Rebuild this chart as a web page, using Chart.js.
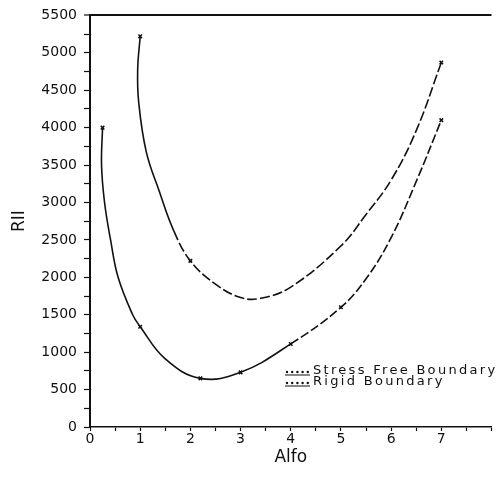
<!DOCTYPE html>
<html>
<head>
<meta charset="utf-8">
<script src="https://cdn.jsdelivr.net/npm/chart.js@4/dist/chart.umd.min.js"></script>
<style>
  html, body { margin: 0; padding: 0; background: #fff; }
  #wrap { width: 497px; height: 477px; }
</style>
</head>
<body>
<div id="wrap"><canvas id="rl-chart"></canvas></div>
<script>
// values (curves are traced in order, so x may step back a little)
var alfaStress = [0.25, 0.23, 0.29, 0.41, 0.56, 0.85, 1, 1.5, 2.2, 3, 4, 5, 5.5, 6, 6.5, 7];
var rStress    = [4000, 3500, 3000, 2500, 2000, 1500, 1340, 910, 650, 730, 1110, 1600, 1980, 2530, 3280, 4100];
var markStress = [0.25, 1, 2.2, 3, 4, 5, 7];

var alfaRigid = [1, 0.95, 0.97, 1.12, 1.38, 1.67, 2, 2.5, 3, 3.4, 4, 5, 5.5, 6, 6.5, 7];
var rRigid    = [5220, 4780, 4340, 3680, 3150, 2620, 2220, 1910, 1730, 1720, 1870, 2420, 2840, 3300, 3960, 4870];
var markRigid = [1, 2, 7];

var xTicks = [0, 1, 2, 3, 4, 5, 6, 7];
var legendLabels = ["Stress Free Boundary", "Rigid Boundary"];

function toPoints(xs, ys) {
    return xs.map(function (x, i) { return { x: x, y: ys[i] }; });
}

function markerRadius(list) {
    return function (ctx) {
        var p = ctx.raw;
        return p && list.indexOf(p.x) >= 0 ? 2.5 : 0;
    };
}

var FONT = "'DejaVu Sans', sans-serif";

// legend sits inside the plot, lower right, like the original
var insideLegend = {
    id: 'insideLegend',
    afterDraw: function (chart) {
        var c = chart.ctx;
        var left = chart.chartArea.left + 195;
        var rows = [chart.chartArea.bottom - 55, chart.chartArea.bottom - 44];
        c.save();
        c.strokeStyle = '#111';
        c.fillStyle = '#111';
        c.lineWidth = 1;
        c.font = '13px ' + FONT;
        c.textBaseline = 'middle';
        try { c.letterSpacing = '2.3px'; } catch (e) {}
        legendLabels.forEach(function (txt, i) {
            var y = rows[i];
            c.beginPath();
            c.moveTo(left, y + 3);
            c.lineTo(left + 25, y + 3);
            c.stroke();
            for (var k = 0; k < 5; k++) {
                c.beginPath();
                c.arc(left + 2 + k * 5.2, y, 1.2, 0, Math.PI * 2);
                c.fill();
            }
            c.fillText(txt, left + 28, y - 1);
        });
        c.restore();
    }
};

new Chart(document.getElementById('rl-chart'), {
    type: 'line',
    data: {
        datasets: [
            {
                label: legendLabels[0],
                data: toPoints(alfaStress, rStress),
                borderColor: '#111',
                borderWidth: 1.6,
                tension: 0.4,
                pointStyle: 'crossRot',
                pointRadius: markerRadius(markStress),
                pointBorderColor: '#111',
                pointBorderWidth: 1.5,
                segment: {
                    borderDash: function (ctx) { return ctx.p0.parsed.x >= 4 ? [9, 3] : undefined; }
                }
            },
            {
                label: legendLabels[1],
                data: toPoints(alfaRigid, rRigid),
                borderColor: '#111',
                borderWidth: 1.6,
                tension: 0.4,
                pointStyle: 'crossRot',
                pointRadius: markerRadius(markRigid),
                pointBorderColor: '#111',
                pointBorderWidth: 1.5,
                segment: {
                    borderDash: function (ctx) { return ctx.p0.parsed.x >= 1.6 ? [10, 3] : undefined; }
                }
            }
        ]
    },
    options: {
        responsive: true,
        maintainAspectRatio: false,
        animation: false,
        layout: { padding: { top: 13, right: 0, left: 0, bottom: 0 } },
        plugins: {
            legend: { display: false },
            tooltip: { enabled: false }
        },
        scales: {
            x: {
                type: 'linear',
                min: 0,
                max: 8,
                afterFit: function (scale) { scale.height = 50; },
                ticks: {
                    stepSize: 0.5,
                    autoSkip: false,
                    maxRotation: 0,
                    padding: 0,
                    color: '#111',
                    font: { family: FONT, size: 14 },
                    callback: function (v) { return xTicks.indexOf(v) >= 0 ? String(v) : ''; }
                },
                grid: {
                    color: 'rgba(0,0,0,0)',
                    tickColor: '#111',
                    tickLength: 4,
                    tickWidth: 1.2
                },
                border: { color: '#111', width: 1.6 },
                title: {
                    display: true,
                    text: 'Alfo',
                    color: '#111',
                    font: { family: FONT, size: 17 },
                    padding: { top: 0, bottom: 9 }
                }
            },
            y: {
                min: 0,
                max: 5500,
                afterFit: function (scale) { scale.width = 90; },
                ticks: {
                    stepSize: 250,
                    autoSkip: false,
                    padding: 7,
                    color: '#111',
                    font: { family: FONT, size: 14 },
                    callback: function (v) { return v % 500 === 0 ? String(v) : ''; }
                },
                grid: {
                    color: function (ctx) { return ctx.tick && ctx.tick.value === 5500 ? '#111' : 'rgba(0,0,0,0)'; },
                    lineWidth: function (ctx) { return ctx.tick && ctx.tick.value === 5500 ? 2 : 1; },
                    tickColor: '#111',
                    tickLength: 6,
                    tickWidth: 1.2
                },
                border: { color: '#111', width: 2 },
                title: {
                    display: true,
                    text: 'RII',
                    color: '#111',
                    font: { family: FONT, size: 17 },
                    padding: { top: 9, bottom: 0 }
                }
            }
        }
    },
    plugins: [insideLegend]
});
</script>
</body>
</html>
